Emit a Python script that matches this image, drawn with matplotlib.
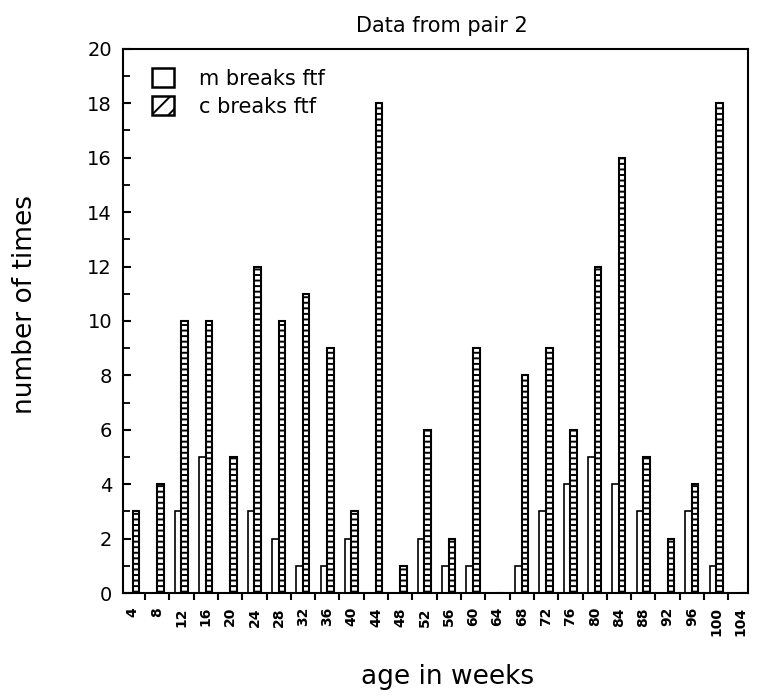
import numpy as np
import matplotlib
matplotlib.use("Agg")
import matplotlib.pyplot as plt
from matplotlib.patches import Patch
from matplotlib.ticker import MultipleLocator, NullFormatter

# age in weeks and counts
weeks = [4, 8, 12, 16, 20, 24, 28, 32, 36, 40, 44, 48, 52,
         56, 60, 64, 68, 72, 76, 80, 84, 88, 92, 96, 100, 104]
m_breaks = [0, 0, 3, 5, 0, 3, 2, 1, 1, 2, 0, 0, 2,
            1, 1, 0, 1, 3, 4, 5, 4, 3, 0, 3, 1, 0]
c_breaks = [3, 4, 10, 10, 5, 12, 10, 11, 9, 3, 18, 1, 6,
            2, 9, 0, 8, 9, 6, 12, 16, 5, 2, 4, 18, 0]

plt.rcParams['hatch.linewidth'] = 1.4

fig = plt.figure(figsize=(7.6, 6.97), dpi=100)
ax = fig.add_axes([0.162, 0.149, 0.822, 0.781])

x = np.arange(len(weeks))
bw = 0.27
ax.bar(x - 0.14, m_breaks, width=bw, facecolor="white", edgecolor="black",
       linewidth=1.2)
ax.bar(x + 0.13, c_breaks, width=bw, facecolor="white", edgecolor="black",
       linewidth=1.5, hatch="---")

ax.set_xlim(-0.4, 25.3)
ax.set_ylim(0, 20)

# y axis: labelled every 2, small ticks every 1, pointing inward
ax.yaxis.set_major_locator(MultipleLocator(2))
ax.yaxis.set_minor_locator(MultipleLocator(1))
ax.tick_params(axis="y", which="major", direction="in", length=6, width=1.5,
               labelsize=14, pad=8)
ax.tick_params(axis="y", which="minor", direction="in", length=5, width=1.3)

# x axis: ticks between groups, labels under groups
ax.set_xticks(x[:-1] + 0.5)
ax.xaxis.set_major_formatter(NullFormatter())
ax.set_xticks(x, [str(w) for w in weeks], minor=True)
ax.tick_params(axis="x", which="major", direction="out", length=5, width=1.5)
ax.tick_params(axis="x", which="minor", length=0, labelsize=10,
               labelrotation=90, pad=10)
for lbl in ax.get_xticklabels(minor=True):
    lbl.set_fontweight("bold")

for s in ax.spines.values():
    s.set_linewidth(1.5)

ax.set_title("Data from pair 2", fontsize=15, pad=12, x=0.51)
ax.set_xlabel("age in weeks", fontsize=19)
ax.set_ylabel("number of times", fontsize=19)
ax.xaxis.set_label_coords(0.52, -0.13)
ax.yaxis.set_label_coords(-0.136, 0.53)

handles = [Patch(facecolor="white", edgecolor="black", linewidth=1.8),
           Patch(facecolor="white", edgecolor="black", linewidth=1.8, hatch="//")]
ax.legend(handles, ["m breaks ftf", "c breaks ftf"], loc="upper left",
          bbox_to_anchor=(0.046, 0.965), frameon=False, fontsize=15,
          handlelength=1.05, handleheight=1.05, handletextpad=1.2,
          labelspacing=0.35, borderpad=0, borderaxespad=0)

fig.savefig("out.png", dpi=100)
